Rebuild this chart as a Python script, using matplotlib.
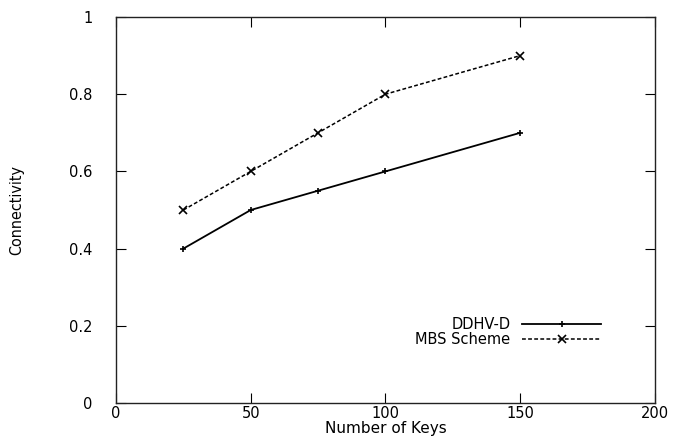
import matplotlib
matplotlib.use("Agg")
import matplotlib.pyplot as plt

# number of keys vs. connectivity for the two schemes
keys = [25, 50, 75, 100, 150]
ddhv_d = [0.40, 0.50, 0.55, 0.60, 0.70]
mbs = [0.50, 0.60, 0.70, 0.80, 0.90]

xticks = [0, 50, 100, 150, 200]
yticks = [0, 0.2, 0.4, 0.6, 0.8, 1]
yticklabels = ["0", "0.2", "0.4", "0.6", "0.8", "1"]

fig = plt.figure(figsize=(6.84, 4.37), dpi=100)
ax = fig.add_axes([116/684, 1-403/437, (655-116)/684, (403-17)/437])

ax.plot(keys, ddhv_d, color="black", lw=1.3, marker="+", ms=4, mew=1.2,
        label="DDHV-D")
ax.plot(keys, mbs, color="black", lw=1.1, ls=(0, (2.5, 1.5)), marker="x",
        ms=6, mew=1.2, label="MBS Scheme")

ax.set_xlim(0, 200)
ax.set_ylim(0, 1)
ax.set_xticks(xticks)
ax.set_yticks(yticks)
ax.set_yticklabels(yticklabels)

for s in ax.spines.values():
    s.set_linewidth(1.0)
    s.set_color("#222222")

ax.tick_params(direction="in", length=7, width=0.8, top=True, right=True,
               labelsize=10.5)
ax.tick_params(axis="y", pad=17)
ax.tick_params(axis="x", pad=2)

ax.set_xlabel("Number of Keys", fontsize=11, labelpad=0)
ax.set_ylabel("Connectivity", fontsize=11.5, labelpad=32,
              family="DejaVu Sans", fontstretch="condensed")

leg = ax.legend(loc="center right", bbox_to_anchor=((601-116)/539, (403-332)/386),
                frameon=False, markerfirst=False, numpoints=1, fontsize=10.5,
                handlelength=5.4, handletextpad=0.8, labelspacing=0.0,
                borderpad=0, borderaxespad=0)

fig.savefig("out.png", dpi=100)
